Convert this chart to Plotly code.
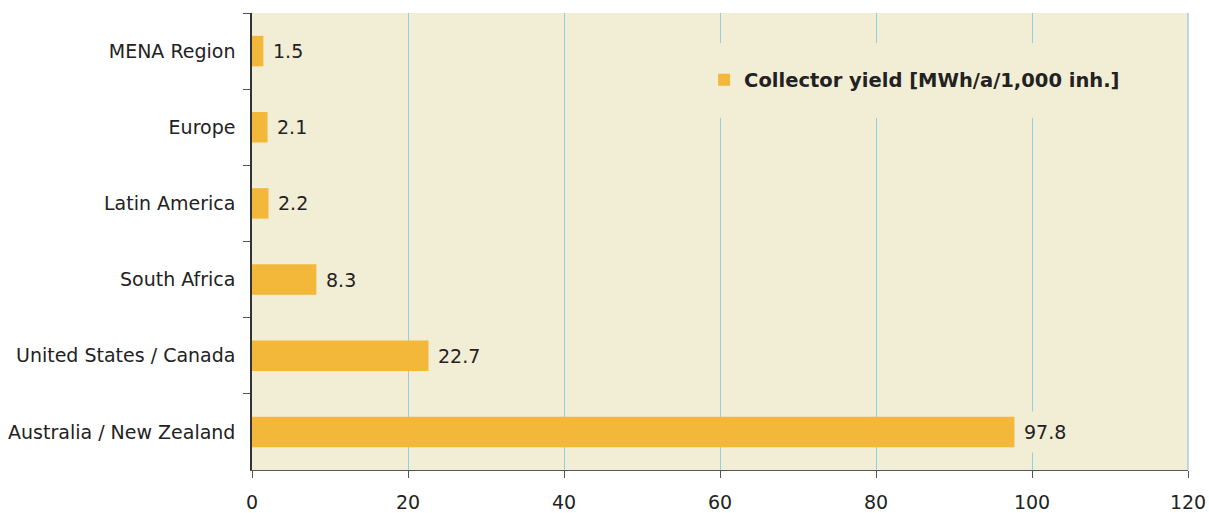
import plotly.graph_objects as go

# Collector yield per region, listed top to bottom
regions = [
    "MENA Region",
    "Europe",
    "Latin America",
    "South Africa",
    "United States / Canada",
    "Australia / New Zealand",
]
collector_yield = [1.5, 2.1, 2.2, 8.3, 22.7, 97.8]
x_ticks = [0, 20, 40, 60, 80, 100, 120]
series_name = "Collector yield [MWh/a/1,000 inh.]"

BAR = "#F3B73A"
PLOT_BG = "#F2EDD5"
GRID = "#8DD0E2"
TEXT = "#222222"
FONT = "DejaVu Sans"

fig = go.Figure()
fig.add_trace(go.Bar(
    y=regions,
    x=collector_yield,
    orientation="h",
    name=series_name,
    marker=dict(color=BAR, line=dict(width=0)),
    showlegend=True,
))

# value labels with a background so the gridlines break behind them
for r, v in zip(regions, collector_yield):
    fig.add_annotation(
        x=v, y=r, xref="x", yref="y",
        text=f"{v:.1f}",
        showarrow=False,
        xanchor="left", yanchor="middle",
        xshift=-1,
        bgcolor=PLOT_BG,
        borderpad=9,
        font=dict(family=FONT, size=19, color=TEXT),
    )

# light rule along the right edge of the plot area
fig.add_shape(
    type="line", xref="paper", yref="paper",
    x0=1, x1=1, y0=0, y1=1,
    line=dict(color="#A9CBE3", width=1.5), layer="between",
)

# plot area 936 px wide so each 20-unit step is a whole number of pixels
fig.update_layout(
    width=1209, height=513,
    margin=dict(l=252, r=21, t=13, b=43),
    paper_bgcolor="white",
    plot_bgcolor=PLOT_BG,
    bargap=0.6,
    font=dict(family=FONT, size=19, color=TEXT),
    # opaque legend box (with a wide border in the plot colour) breaks the gridlines
    legend=dict(
        x=0.4638, y=0.853, xanchor="left", yanchor="middle",
        bgcolor=PLOT_BG,
        bordercolor=PLOT_BG,
        borderwidth=18,
        font=dict(family=FONT, size=19.5, color=TEXT, weight="bold"),
    ),
    xaxis=dict(
        range=[0, 120],
        automargin=False,
        tickvals=x_ticks,
        ticktext=[str(t) for t in x_ticks],
        showgrid=True, gridcolor=GRID, gridwidth=1,
        zeroline=False,
        showline=True, linecolor="#555555", linewidth=1,
        ticks="outside", ticklen=7, tickcolor="#555555",
        ticklabelstandoff=8,
        tickfont=dict(family=FONT, size=19, color=TEXT),
    ),
    yaxis=dict(
        categoryorder="array", categoryarray=regions,
        autorange="reversed",
        automargin=False,
        showgrid=False, zeroline=False,
        showline=True, linecolor="#333333", linewidth=1.5,
        ticks="outside", ticklen=7, tickcolor="#555555",
        tickson="boundaries",
        ticklabelstandoff=11,
        tickfont=dict(family=FONT, size=19, color=TEXT),
    ),
)

fig.write_html("out.html")
